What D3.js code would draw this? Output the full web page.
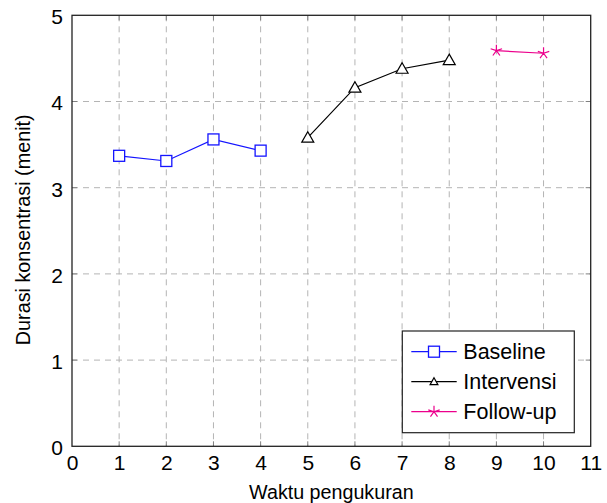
<!DOCTYPE html>
<html>
<head>
<meta charset="utf-8">
<script src="https://cdn.jsdelivr.net/npm/d3@7"></script>
<style>
  body { margin: 0; background: #fff; }
  svg text { font-family: "Liberation Sans", Arial, Helvetica, sans-serif; fill: #000; }
</style>
</head>
<body>
<div id="chart"></div>
<script>
// Durasi konsentrasi per sesi
const baselineX = [1, 2, 3, 4];
const baselineY = [3.37, 3.31, 3.56, 3.43];
const intervensiX = [5, 6, 7, 8];
const intervensiY = [3.58, 4.16, 4.38, 4.48];
const followX = [9, 10];
const followY = [4.59, 4.56];

const xTicks = [0, 1, 2, 3, 4, 5, 6, 7, 8, 9, 10, 11];
const yTicks = [0, 1, 2, 3, 4, 5];
const seriesNames = ['Baseline', 'Intervensi', 'Follow-up'];

const width = 607, height = 503;
const margin = { top: 15.3, right: 16.3, bottom: 56.7, left: 72 };
const w = width - margin.left - margin.right;
const h = height - margin.top - margin.bottom;

const svg = d3.select('#chart').append('svg')
  .attr('width', width)
  .attr('height', height);

const g = svg.append('g')
  .attr('transform', `translate(${margin.left},${margin.top})`);

const x = d3.scaleLinear().domain([0, 11]).range([0, w]);
const y = d3.scaleLinear().domain([0, 5]).range([h, 0]);

// grid
g.append('g').selectAll('line')
  .data(xTicks.slice(1, -1))
  .join('line')
  .attr('x1', d => x(d)).attr('x2', d => x(d))
  .attr('y1', 0).attr('y2', h)
  .attr('stroke', '#b4b4b4')
  .attr('stroke-dasharray', '6,5');

g.append('g').selectAll('line')
  .data(yTicks.slice(1, -1))
  .join('line')
  .attr('x1', 0).attr('x2', w)
  .attr('y1', d => y(d)).attr('y2', d => y(d))
  .attr('stroke', '#b4b4b4')
  .attr('stroke-dasharray', '6,5');

// tick marks inside the frame, both sides
const tickLen = 5;
const tickG = g.append('g').attr('stroke', '#808080').attr('stroke-width', 1);
xTicks.slice(1, -1).forEach(d => {
  tickG.append('line').attr('x1', x(d)).attr('x2', x(d)).attr('y1', h).attr('y2', h - tickLen);
  tickG.append('line').attr('x1', x(d)).attr('x2', x(d)).attr('y1', 0).attr('y2', tickLen);
});
yTicks.slice(1, -1).forEach(d => {
  tickG.append('line').attr('x1', 0).attr('x2', tickLen).attr('y1', y(d)).attr('y2', y(d));
  tickG.append('line').attr('x1', w).attr('x2', w - tickLen).attr('y1', y(d)).attr('y2', y(d));
});

// axes (labels only, frame drawn separately)
const xAxis = g.append('g')
  .attr('transform', `translate(0,${h})`)
  .call(d3.axisBottom(x).tickValues(xTicks).tickFormat(d3.format('d')).tickSize(0).tickPadding(9));
const yAxis = g.append('g')
  .call(d3.axisLeft(y).tickValues(yTicks).tickFormat(d3.format('d')).tickSize(0).tickPadding(9));
[xAxis, yAxis].forEach(a => {
  a.select('.domain').remove();
  a.selectAll('text').attr('font-size', 21).attr('font-family', '"Liberation Sans", Arial, sans-serif');
});
yAxis.selectAll('text').attr('dy', '0.4em');

// frame
g.append('rect')
  .attr('width', w).attr('height', h)
  .attr('fill', 'none')
  .attr('stroke', '#222')
  .attr('stroke-width', 1.3);

// axis labels
svg.append('text')
  .attr('x', margin.left + w / 2)
  .attr('y', 499)
  .attr('text-anchor', 'middle')
  .attr('font-size', 19.7)
  .text('Waktu pengukuran');

svg.append('text')
  .attr('transform', `translate(30,${margin.top + h / 2 - 1}) rotate(-90)`)
  .attr('text-anchor', 'middle')
  .attr('font-size', 19.8)
  .text('Durasi konsentrasi (menit)');

// markers
function square(sel, color, k = 1) {
  sel.append('rect')
    .attr('x', -5.5 * k).attr('y', -5.5 * k).attr('width', 11 * k).attr('height', 11 * k)
    .attr('fill', '#fff').attr('stroke', color).attr('stroke-width', 1.3);
}
function triangle(sel, color, k = 1) {
  sel.append('path')
    .attr('d', `M0,${-6 * k}L${6 * k},${4.5 * k}L${-6 * k},${4.5 * k}Z`)
    .attr('fill', '#fff').attr('stroke', color).attr('stroke-width', 1.2);
}
function star(sel, color, k = 1) {
  const r = 6 * k;
  let p = '';
  for (let i = 0; i < 5; i++) {
    const a = -Math.PI / 2 + i * 2 * Math.PI / 5;
    p += `M0,0L${r * Math.cos(a)},${r * Math.sin(a)}`;
  }
  sel.append('path').attr('d', p).attr('fill', 'none').attr('stroke', color).attr('stroke-width', 1.2);
}

const series = [
  { name: seriesNames[0], xs: baselineX, ys: baselineY, color: '#1414ff', mark: square, legK: 1 },
  { name: seriesNames[1], xs: intervensiX, ys: intervensiY, color: '#000', mark: triangle, legK: 0.65 },
  { name: seriesNames[2], xs: followX, ys: followY, color: '#ec008c', mark: star, legK: 1 }
];

const line = d3.line().x(d => x(d[0])).y(d => y(d[1]));

series.forEach(s => {
  const pts = s.xs.map((v, i) => [v, s.ys[i]]);
  g.append('path')
    .datum(pts)
    .attr('fill', 'none')
    .attr('stroke', s.color)
    .attr('stroke-width', 1.2)
    .attr('d', line);
  pts.forEach(p => {
    const m = g.append('g').attr('transform', `translate(${x(p[0])},${y(p[1])})`);
    s.mark(m, s.color);
  });
});

// legend
const leg = svg.append('g').attr('transform', 'translate(402.3,331)');
leg.append('rect')
  .attr('width', 172).attr('height', 101.7)
  .attr('fill', '#fff').attr('stroke', '#222').attr('stroke-width', 1.2);
series.forEach((s, i) => {
  const row = leg.append('g').attr('transform', `translate(0,${20.7 + i * 30})`);
  row.append('line')
    .attr('x1', 9).attr('x2', 54.4)
    .attr('stroke', s.color).attr('stroke-width', 1.2);
  const m = row.append('g').attr('transform', 'translate(31.7,0)');
  s.mark(m, s.color, s.legK);
  row.append('text')
    .attr('x', 61)
    .attr('y', 7.5)
    .attr('font-size', 21.5)
    .text(s.name);
});
</script>
</body>
</html>
